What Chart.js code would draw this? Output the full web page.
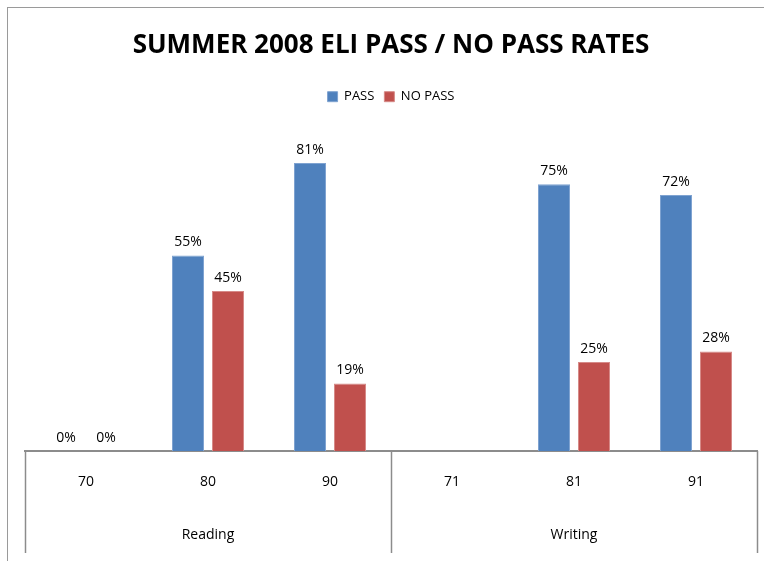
<!DOCTYPE html>
<html>
<head>
<meta charset="utf-8">
<script src="https://cdn.jsdelivr.net/npm/chart.js@4.4.0/dist/chart.umd.min.js"></script>
<style>
  html, body { margin: 0; padding: 0; background: #fff; overflow: hidden; }
  #wrap { position: relative; width: 764px; height: 561px; overflow: hidden; }
  #frame { position: absolute; left: 7px; top: 7px; width: 800px; height: 600px; border-left: 1px solid #9a9a9a; border-top: 1px solid #9a9a9a; }
  canvas { position: absolute; left: 0; top: 0; }
</style>
</head>
<body>
<div id="wrap">
  <div id="frame"></div>
  <canvas id="c" width="764" height="561"></canvas>
</div>
<script>
// ── DATA ─────────────────────────────────────────────────────
const scores   = ['70', '80', '90', '71', '81', '91'];
const sections = ['Reading', 'Writing'];
const passPct   = [0, 55, 81, null, 75, 72];
const noPassPct = [0, 45, 19, null, 25, 28];

const FONT = "'Open Sans', sans-serif";
const LINE = '#8c8c8c';

// value labels above each bar
const valueLabels = {
  id: 'valueLabels',
  afterDatasetsDraw(chart) {
    const ctx = chart.ctx;
    ctx.save();
    ctx.font = '14px ' + FONT;
    ctx.fillStyle = '#000';
    ctx.textAlign = 'center';
    ctx.textBaseline = 'bottom';
    chart.data.datasets.forEach((ds, i) => {
      chart.getDatasetMeta(i).data.forEach((bar, j) => {
        const v = ds.data[j];
        if (v === null) return;
        ctx.fillText(v + '%', bar.x, bar.y - 6);
      });
    });
    ctx.restore();
  }
};

// section separators running through both label rows
const sectionLines = {
  id: 'sectionLines',
  afterDraw(chart) {
    const x = chart.scales.x, g = chart.scales.group;
    const ctx = chart.ctx;
    ctx.save();
    ctx.strokeStyle = LINE;
    ctx.lineWidth = 1.5;
    [-0.5, 2.5, 5.5].forEach(v => {
      const px = Math.round(x.getPixelForValue(v)) + 0.5;
      ctx.beginPath();
      ctx.moveTo(px, x.top);
      ctx.lineTo(px, g.bottom - 2);
      ctx.stroke();
    });
    ctx.restore();
  }
};

new Chart(document.getElementById('c'), {
  type: 'bar',
  data: {
    labels: scores,
    datasets: [
      { label: 'PASS',    data: passPct,   backgroundColor: '#4F81BD', borderColor: '#7fa3d1', borderWidth: 1 },
      { label: 'NO PASS', data: noPassPct, backgroundColor: '#C0504D', borderColor: '#d68a88', borderWidth: 1 },
    ],
  },
  options: {
    responsive: false,
    animation: false,
    categoryPercentage: 0.656,
    barPercentage: 0.8,
    layout: { padding: { left: 25, right: 7, bottom: 6, top: 0 } },
    plugins: {
      title: {
        display: true,
        text: 'SUMMER 2008 ELI PASS / NO PASS RATES',
        color: '#000',
        font: { family: FONT, size: 26, weight: 'bold' },
        padding: { top: 30, bottom: 19 },
      },
      legend: {
        labels: {
          color: '#000',
          font: { family: FONT, size: 13 },
          boxWidth: 10, boxHeight: 10,
          padding: 10,
        },
      },
      tooltip: { enabled: false },
    },
    scales: {
      x: {
        grid: { display: false, drawTicks: false },
        border: { display: true, color: LINE, width: 2 },
        ticks: { color: '#000', font: { family: FONT, size: 14 }, padding: 23 },
        afterFit: s => { s.height = 57; },
      },
      group: {
        type: 'category',
        labels: sections,
        position: 'bottom',
        offset: true,
        grid: { display: false, drawTicks: false },
        border: { display: false },
        ticks: { color: '#000', font: { family: FONT, size: 14 }, padding: 19 },
        afterFit: s => { s.height = 47; },
      },
      y: {
        display: false,
        min: 0,
        max: 95,
      },
    },
  },
  plugins: [valueLabels, sectionLines],
});
</script>
</body>
</html>
